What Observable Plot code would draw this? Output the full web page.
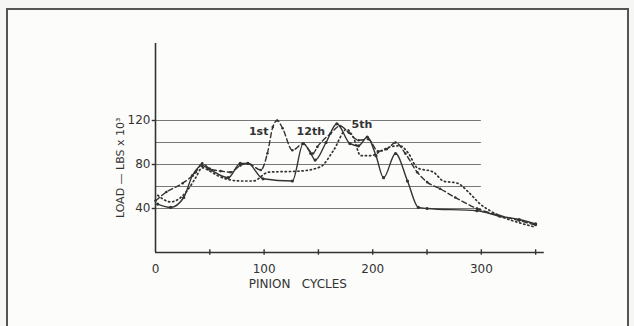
<!DOCTYPE html>
<html>
<head>
<meta charset="utf-8">
<script src="https://cdn.jsdelivr.net/npm/d3@7"></script>
<script src="https://cdn.jsdelivr.net/npm/@observablehq/plot@0.6"></script>
<style>
  html, body { margin: 0; padding: 0; background: #f6f6f4; }
  #wrap { position: relative; width: 634px; height: 326px; overflow: hidden; }
  #frame { position: absolute; left: 6px; top: 8px; width: 623px; height: 330px; border: 2px solid #555; box-sizing: border-box; background: #fcfcfb; }
  #chart { position: absolute; left: 0; top: 0; }
</style>
</head>
<body>
<div id="wrap"><div id="frame"></div><div id="chart"></div></div>
<script>
// Series: [pinion cycles, load (lbs x 10^3)]
const first = [[0,47],[10,55],[25,63],[37,73],[43,81],[50,76],[60,74],[69,73],[78,79],[85,81],[97,75],[103,90],[108,114],[112,120],[117,113],[126,93],[136,99],[145,90],[149,96],[161,108],[170,115],[178,109],[187,102],[196,103],[205,92],[213,94],[221,100],[230,90],[241,73],[250,64],[262,58],[276,50],[296,40],[315,34],[335,29],[350,25]];
const twelfth = [[2,44],[14,41],[26,50],[34,70],[43,79],[49,76],[67,68],[78,81],[85,81],[99,67],[126,65],[136,99],[143,90],[147,84],[157,100],[167,117],[179,99],[187,97],[195,105],[203,88],[210,68],[221,90],[232,65],[242,41],[250,40],[296,38],[317,33],[335,30],[350,26]];
const fifth = [[2,52],[14,46],[29,56],[37,68],[43,77],[50,74],[57,70],[78,65],[90,65],[104,73],[133,74],[152,78],[164,93],[176,112],[182,105],[189,88],[198,88],[209,93],[216,96],[225,97],[233,90],[241,77],[256,73],[265,65],[278,63],[287,56],[293,50],[299,44],[308,38],[320,32],[335,27],[350,23]];

const gridValues = [40, 60, 80, 100, 120];
const yTickLabels = [40, 80, 120];
const xTickMarks = [50, 100, 150, 200, 250, 300, 350];
const xTickLabels = [0, 100, 200, 300];
const curveLabels = [
  {x: 95, y: 110, text: "1st"},
  {x: 143, y: 110, text: "12th"},
  {x: 190, y: 116, text: "5th"}
];
const xTitle = "PINION   CYCLES";
const yTitle = "LOAD — LBS x 10³";

const toObj = a => a.map(([x, y]) => ({x, y}));
const ink = "#333";
const font = "DejaVu Sans";

const chart = Plot.plot({
  width: 634,
  height: 326,
  marginLeft: 155,
  marginRight: 88,
  marginTop: 43,
  marginBottom: 74,
  x: {domain: [0, 360], axis: null},
  y: {domain: [0, 190], axis: null},
  style: {background: "transparent", fontFamily: font},
  marks: [
    Plot.ruleY(gridValues, {x1: 0, x2: 300, stroke: "#777", strokeWidth: 1}),
    Plot.ruleY([0], {x1: 0, x2: 358, stroke: ink, strokeWidth: 1.6}),
    Plot.ruleX([0], {y1: 0, y2: 190, stroke: ink, strokeWidth: 1.6}),
    Plot.ruleX(xTickMarks, {y1: -2.5, y2: 2.5, stroke: ink, strokeWidth: 1.4}),
    Plot.ruleY(yTickLabels, {x1: -3, x2: 0, stroke: ink, strokeWidth: 1.4}),
    Plot.text(yTickLabels, {x: 0, y: d => d, text: d => String(d), textAnchor: "end", dx: -5, fontSize: 12, fill: ink}),
    Plot.text(xTickLabels, {x: d => d, y: 0, text: d => String(d), dy: 17, fontSize: 12, fill: ink}),
    Plot.text([xTitle], {x: 131, y: 0, text: d => d, dy: 32, fontSize: 12, fill: ink, fontWeight: "500"}),
    Plot.text([yTitle], {x: 0, y: 77, text: d => d, dx: -35, rotate: -90, fontSize: 11, fill: ink}),
    Plot.line(toObj(fifth), {x: "x", y: "y", stroke: ink, strokeWidth: 1.7, strokeDasharray: "1.2,3", strokeLinecap: "round", curve: "monotone-x"}),
    Plot.line(toObj(first), {x: "x", y: "y", stroke: ink, strokeWidth: 1.4, strokeDasharray: "5,3", curve: "monotone-x"}),
    Plot.line(toObj(twelfth), {x: "x", y: "y", stroke: ink, strokeWidth: 1.4, curve: "monotone-x"}),
    Plot.dot(toObj(twelfth), {x: "x", y: "y", r: 1.6, fill: ink}),
    Plot.dot(toObj(first), {x: "x", y: "y", r: 1.3, fill: ink}),
    Plot.text(curveLabels, {x: "x", y: "y", text: "text", fontSize: 11, fontWeight: "bold", fill: ink, stroke: "#fcfcfb", strokeWidth: 3, paintOrder: "stroke"})
  ]
});
document.getElementById("chart").appendChild(chart);
</script>
</body>
</html>
